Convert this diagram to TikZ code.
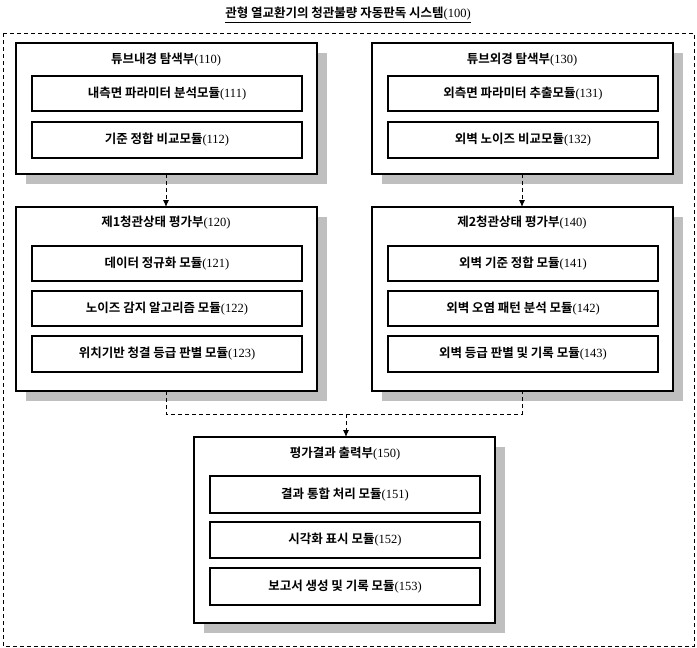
\documentclass[tikz,border=0pt]{standalone}
\usepackage{fontspec}
\usetikzlibrary{arrows.meta}
\setmainfont{Liberation Serif}
\newfontfamily\cjk{Noto Sans CJK KR}[BoldFont={* Bold}]
\begin{document}
\begin{tikzpicture}[x=1pt,y=-1pt,
  box/.style={draw=black,line width=1.1pt,fill=white},
  shadow/.style={fill=black!25,draw=none},
  inner/.style={draw=black,line width=1.1pt,fill=white},
  txt/.style={font=\fontsize{12.5}{14}\selectfont},
  dline/.style={draw=black,line width=0.9pt,dash pattern=on 4pt off 3pt},
  arr/.style={dline,-{Latex[length=7pt,width=6pt]}}]
\useasboundingbox (0,0) rectangle (697,648);
\newcommand{\kl}[2]{{\cjk\bfseries #1}#2}
\newcommand{\bigbox}[5]{%
  \fill[shadow] (#1+10,#2+10) rectangle (#3+10,#4+10);
  \path[box] (#1,#2) rectangle (#3,#4);
  \node[txt] (#5) at ({(#1+#3)/2},#2+17) {};}
\newcommand{\ibox}[6]{%
  \path[inner] (#1,#2) rectangle (#3,#4);
  \node[txt] (#5) at ({(#1+#3)/2},{(#2+#4)/2}) {#6};}
\node[txt] (title) at (348,15) {\underline{\kl{관형 열교환기의 청관불량 자동판독 시스템}{(100)}}};
\draw[dline] (3,33) rectangle (694,646);
% 110
\bigbox{16}{43}{317}{174}{t110}
\node[txt] at (166,60) {\kl{튜브내경 탐색부}{(110)}};
\ibox{32}{76}{302}{111}{m111}{\kl{내측면 파라미터 분석모듈}{(111)}}
\ibox{32}{122}{302}{158}{m112}{\kl{기준 정합 비교모듈}{(112)}}
% 130
\bigbox{372}{43}{673}{174}{t130}
\node[txt] at (522,60) {\kl{튜브외경 탐색부}{(130)}};
\ibox{388}{76}{658}{111}{m131}{\kl{외측면 파라미터 추출모듈}{(131)}}
\ibox{388}{122}{658}{158}{m132}{\kl{외벽 노이즈 비교모듈}{(132)}}
% 120
\bigbox{16}{207}{317}{391}{t120}
\node[txt] at (166,223) {\kl{제1청관상태 평가부}{(120)}};
\ibox{32}{246}{302}{281}{m121}{\kl{데이터 정규화 모듈}{(121)}}
\ibox{32}{291}{302}{326}{m122}{\kl{노이즈 감지 알고리즘 모듈}{(122)}}
\ibox{32}{336}{302}{372}{m123}{\kl{위치기반 청결 등급 판별 모듈}{(123)}}
% 140
\bigbox{372}{207}{673}{391}{t140}
\node[txt] at (522,223) {\kl{제2청관상태 평가부}{(140)}};
\ibox{388}{246}{658}{281}{m141}{\kl{외벽 기준 정합 모듈}{(141)}}
\ibox{388}{291}{658}{326}{m142}{\kl{외벽 오염 패턴 분석 모듈}{(142)}}
\ibox{388}{336}{658}{372}{m143}{\kl{외벽 등급 판별 및 기록 모듈}{(143)}}
% 150
\bigbox{194}{437}{495}{623}{t150}
\node[txt] at (345,454) {\kl{평가결과 출력부}{(150)}};
\ibox{210}{476}{480}{513}{m151}{\kl{결과 통합 처리 모듈}{(151)}}
\ibox{210}{522}{480}{558}{m152}{\kl{시각화 표시 모듈}{(152)}}
\ibox{210}{568}{480}{605}{m153}{\kl{보고서 생성 및 기록 모듈}{(153)}}
% connectors
\coordinate (a1) at (166,174); \coordinate (a2) at (166,207);
\coordinate (b1) at (522,174); \coordinate (b2) at (522,207);
\draw[arr] (a1) -- (a2);
\draw[arr] (b1) -- (b2);
\coordinate (c1) at (166,391); \coordinate (c2) at (166,414);
\coordinate (d1) at (522,391); \coordinate (d2) at (522,414);
\coordinate (e1) at (346,414); \coordinate (e2) at (346,437);
\draw[dline] (c1) -- (c2) -- (d2) -- (d1);
\draw[arr] (e1) -- (e2);
\end{tikzpicture}
\end{document}
